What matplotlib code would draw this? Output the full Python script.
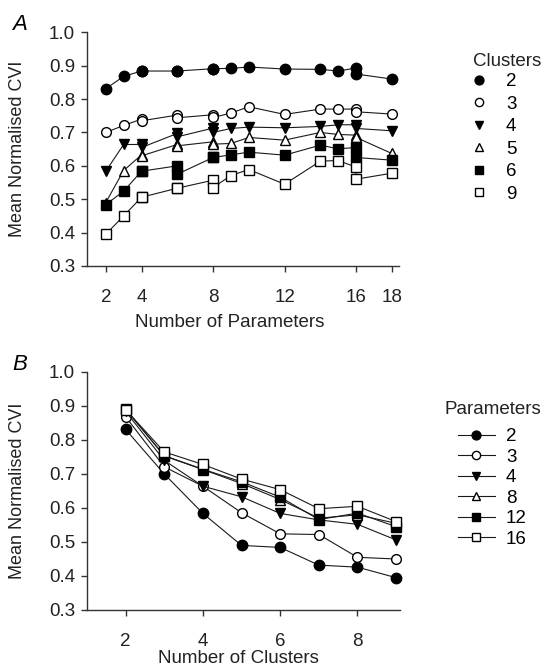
import matplotlib
matplotlib.use("Agg")
import matplotlib.pyplot as plt
from matplotlib.lines import Line2D

plt.rcParams['font.family'] = ['Liberation Sans', 'DejaVu Sans']

# ---------------- data ----------------
params_x = [2, 3, 4, 4, 6, 6, 8, 8, 9, 10, 12, 14, 15, 16, 16, 18]
cluster_labels = ["2", "3", "4", "5", "6", "9"]
cvi_c2 = [0.831, 0.868, 0.884, 0.884, 0.884, 0.884, 0.891, 0.891, 0.892, 0.896, 0.890, 0.889, 0.884, 0.893, 0.875, 0.860]
cvi_c3 = [0.700, 0.721, 0.740, 0.735, 0.752, 0.744, 0.753, 0.745, 0.758, 0.777, 0.754, 0.770, 0.770, 0.770, 0.762, 0.755]
cvi_c4 = [0.584, 0.664, 0.664, 0.655, 0.697, 0.687, 0.713, 0.700, 0.712, 0.716, 0.714, 0.718, 0.723, 0.723, 0.712, 0.705]
cvi_c5 = [0.490, 0.586, 0.633, 0.630, 0.664, 0.660, 0.672, 0.665, 0.667, 0.685, 0.677, 0.700, 0.694, 0.692, 0.685, 0.637]
cvi_c6 = [0.484, 0.524, 0.584, 0.584, 0.600, 0.575, 0.625, 0.625, 0.633, 0.641, 0.632, 0.662, 0.651, 0.655, 0.625, 0.617]
cvi_c9 = [0.395, 0.450, 0.506, 0.506, 0.533, 0.533, 0.557, 0.535, 0.571, 0.589, 0.545, 0.614, 0.616, 0.596, 0.560, 0.578]

clusters_x = [2, 3, 4, 5, 6, 7, 8, 9]
param_labels = ["2", "3", "4", "8", "12", "16"]
cvi_p2 = [0.831, 0.700, 0.584, 0.490, 0.484, 0.432, 0.426, 0.395]
cvi_p3 = [0.868, 0.721, 0.664, 0.586, 0.524, 0.522, 0.455, 0.450]
cvi_p4 = [0.884, 0.740, 0.664, 0.633, 0.584, 0.565, 0.552, 0.506]
cvi_p8 = [0.891, 0.753, 0.713, 0.672, 0.625, 0.570, 0.580, 0.555]
cvi_p12 = [0.890, 0.754, 0.714, 0.677, 0.632, 0.566, 0.585, 0.545]
cvi_p16 = [0.889, 0.765, 0.728, 0.685, 0.654, 0.598, 0.605, 0.560]

xticks_a = [2, 4, 8, 12, 16, 18]
xticks_b = [2, 4, 6, 8]
yticks = [0.3, 0.4, 0.5, 0.6, 0.7, 0.8, 0.9, 1.0]

# ---------------- styles ----------------
styles = [
    dict(marker='o', mfc='black', ms=7.5),
    dict(marker='o', mfc='white', ms=7),
    dict(marker='v', mfc='black', ms=7.5),
    dict(marker='^', mfc='white', ms=7.5),
    dict(marker='s', mfc='black', ms=6.5),
    dict(marker='s', mfc='white', ms=6.5),
]
lc = '#1a1a1a'
tc = '#222222'

W, H = 543, 666
fig = plt.figure(figsize=(W / 100, H / 100), dpi=100)

axA = fig.add_axes([87 / W, 1 - 266 / H, 312 / W, (266 - 32.3) / H])
axB = fig.add_axes([87 / W, 1 - 610 / H, 313 / W, (610 - 372) / H])

fs = 13.5

def style_axes(ax):
    for s in ['top', 'right']:
        ax.spines[s].set_visible(False)
    for s in ['left', 'bottom']:
        ax.spines[s].set_linewidth(1.0)
        ax.spines[s].set_color('#333333')
    ax.tick_params(direction='out', length=4.5, width=1.0, color='#333333',
                   labelsize=fs, labelcolor=tc)
    ax.tick_params(axis='y', pad=4)
    ax.tick_params(axis='x', pad=12)
    ax.set_ylim(0.3, 1.0)
    ax.set_yticks(yticks)
    ax.set_yticklabels([f"{v:.1f}" for v in yticks])

# Panel A
seriesA = [cvi_c2, cvi_c3, cvi_c4, cvi_c5, cvi_c6, cvi_c9]
handlesA = []
for vals, st, lab in zip(seriesA, styles, cluster_labels):
    axA.plot(params_x, vals, color=lc, lw=0.8, marker=st['marker'], ms=st['ms'],
             mfc=st['mfc'], mec='black', mew=1.0, clip_on=False, zorder=3)
    handlesA.append(Line2D([], [], linestyle='none', marker=st['marker'],
                           ms=st['ms'] * 0.85, mfc=st['mfc'], mec='black', mew=1.0, label=lab))
style_axes(axA)
axA.set_xlim(0.95, 18.4)
axA.set_xticks(xticks_a)
axA.set_ylabel("Mean Normalised CVI", fontsize=13, color=tc)
axA.yaxis.set_label_coords(-0.195, 0.5)
axA.set_xlabel("Number of Parameters", fontsize=fs, color=tc, va='top')
axA.xaxis.set_label_coords(0.458, -0.205)
fig.text(12 / W, 1 - 24 / H, "A", fontsize=16, style='italic', va='center', ha='left')

fig.text(473 / W, 1 - 62 / H, "Clusters", fontsize=fs, color=tc, va='center', ha='left')
fig.legend(handles=handlesA, loc='upper left',
           bbox_to_anchor=(469.6 / W, 1 - 73 / H), frameon=False,
           fontsize=fs, handlelength=1.0, handleheight=0.7,
           handletextpad=0.94, labelspacing=0.29, borderaxespad=0, borderpad=0)

# Panel B
seriesB = [cvi_p2, cvi_p3, cvi_p4, cvi_p8, cvi_p12, cvi_p16]
handlesB = []
for vals, st, lab in zip(seriesB, styles, param_labels):
    axB.plot(clusters_x, vals, color=lc, lw=0.8, marker=st['marker'], ms=st['ms'],
             mfc=st['mfc'], mec='black', mew=1.0, clip_on=False, zorder=3)
    handlesB.append(Line2D([], [], color=lc, lw=0.8, marker=st['marker'],
                           ms=st['ms'] * 0.85, mfc=st['mfc'], mec='black', mew=1.0, label=lab))
style_axes(axB)
axB.set_xlim(1.0, 9.1)
axB.set_xticks(xticks_b)
axB.set_ylabel("Mean Normalised CVI", fontsize=13, color=tc)
axB.yaxis.set_label_coords(-0.195, 0.5)
axB.set_xlabel("Number of Clusters", fontsize=fs, color=tc, va='top')
axB.xaxis.set_label_coords(0.484, -0.168)
fig.text(12 / W, 1 - 364 / H, "B", fontsize=16, style='italic', va='center', ha='left')

fig.text(445 / W, 1 - 410 / H, "Parameters", fontsize=fs, color=tc, va='center', ha='left')
fig.legend(handles=handlesB, loc='upper left',
           bbox_to_anchor=(458 / W, 1 - 428 / H), frameon=False,
           fontsize=fs, handlelength=1.97, handleheight=0.7,
           handletextpad=0.59, labelspacing=0.18, borderaxespad=0, borderpad=0)

fig.savefig("out.png", dpi=100)
